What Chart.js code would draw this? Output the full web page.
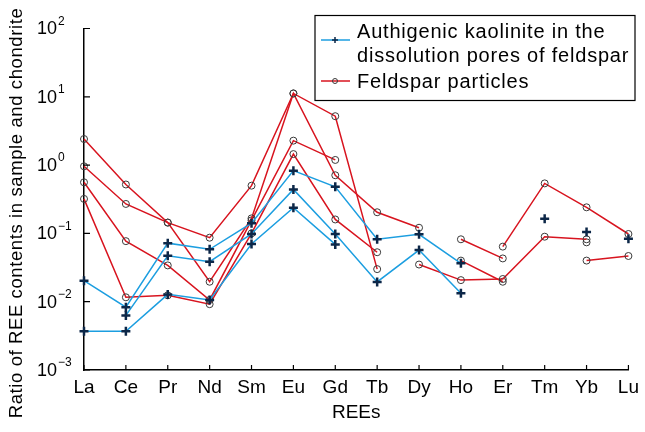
<!DOCTYPE html>
<html>
<head>
<meta charset="utf-8">
<script src="https://cdn.jsdelivr.net/npm/chart.js@4.4.1/dist/chart.umd.min.js"></script>
<style>
  html, body { margin: 0; padding: 0; background: #fff; }
</style>
</head>
<body>
<canvas id="graficaREE" width="645" height="432"></canvas>
<script>
// elementos de tierras raras (eje x)
const elementos = ['La', 'Ce', 'Pr', 'Nd', 'Sm', 'Eu', 'Gd', 'Tb', 'Dy', 'Ho', 'Er', 'Tm', 'Yb', 'Lu'];

// caolinita autigena en poros de disolucion del feldespato
const caolinita1 = [0.0203, 0.0083, 0.072, 0.0585, 0.141, 0.83, 0.48, 0.082, 0.097, 0.0365, null, 0.164, null, 0.0836];
const caolinita2 = [null, 0.0063, 0.047, 0.0385, 0.098, 0.44, 0.098, 0.0195, 0.057, 0.0133, null, null, 0.105, null];
const caolinita3 = [0.0037, 0.0037, 0.0128, 0.0106, 0.070, 0.238, 0.069, null, null, null, null, null, null, null];

// particulas de feldespato
const feldespato1 = [2.41, 0.52, 0.144, 0.0865, 0.50, 11.2, 5.2, 0.030, null, 0.082, 0.043, null, 0.040, 0.0467];
const feldespato2 = [0.96, 0.27, 0.144, 0.0196, 0.166, 11.2, 0.71, 0.204, 0.121, null, 0.064, 0.54, 0.241, 0.098];
const feldespato3 = [0.56, 0.077, 0.034, 0.0106, 0.155, 2.28, 1.19, null, 0.035, 0.0207, 0.0215, 0.0895, 0.082, null];
const feldespato4 = [0.32, 0.0116, 0.0124, 0.0092, 0.10, 1.45, 0.16, 0.053, null, 0.040, 0.0196, null, 0.074, null];

// exponentes de las marcas del eje y
const exponentes = [-3, -2, -1, 0, 1, 2];

const etiquetaCaolinita = ['Authigenic kaolinite in the', 'dissolution pores of feldspar'];
const etiquetaFeldespato = ['Feldspar particles'];

const AZUL = '#1c9ee0';
const ROJO = '#d8141f';
const CRUZ = '#0c2748';
const CIRCULO = '#3a3a3a';
const FUENTE = 'Liberation Sans, Arial, sans-serif';

function serieCaolinita(datos) {
    return {
        label: etiquetaCaolinita.join(' '),
        data: datos,
        borderColor: AZUL,
        borderWidth: 1.5,
        pointStyle: 'cross',
        pointRadius: 4.5,
        pointBorderWidth: 2.5,
        pointBorderColor: CRUZ,
        pointBackgroundColor: CRUZ,
        tension: 0,
        spanGaps: false
    };
}

function serieFeldespato(datos) {
    return {
        label: etiquetaFeldespato[0],
        data: datos,
        borderColor: ROJO,
        borderWidth: 1.5,
        pointStyle: 'circle',
        pointRadius: 3.5,
        pointBorderWidth: 1,
        pointBorderColor: CIRCULO,
        pointBackgroundColor: 'rgba(0,0,0,0)',
        tension: 0,
        spanGaps: false
    };
}

// marcas hacia dentro, etiquetas 10^n, titulo del eje y y leyenda
const decoracion = {
    id: 'decoracion',
    afterDraw(chart) {
        const ctx = chart.ctx;
        const x = chart.scales.x;
        const y = chart.scales.y;
        const area = chart.chartArea;
        ctx.save();
        ctx.strokeStyle = '#000';
        ctx.lineWidth = 1.2;
        ctx.beginPath();
        elementos.forEach((e, i) => {
            const px = x.getPixelForValue(i);
            ctx.moveTo(px, area.bottom);
            ctx.lineTo(px, area.bottom - 5);
        });
        exponentes.forEach(n => {
            const py = y.getPixelForValue(Math.pow(10, n));
            ctx.moveTo(area.left, py);
            ctx.lineTo(area.left + 6, py);
        });
        ctx.stroke();

        // etiquetas del eje y
        ctx.fillStyle = '#000';
        ctx.textAlign = 'left';
        ctx.textBaseline = 'middle';
        exponentes.forEach(n => {
            const py = y.getPixelForValue(Math.pow(10, n));
            ctx.font = '18px ' + FUENTE;
            ctx.fillText('10', 37, py + 1);
            const w = ctx.measureText('10').width;
            ctx.font = '12px ' + FUENTE;
            ctx.fillText(n < 0 ? '\u2212' + Math.abs(n) : String(n), 37 + w + 1, py - 7);
        });

        // titulo del eje y
        ctx.save();
        ctx.translate(17, 213);
        ctx.rotate(-Math.PI / 2);
        ctx.textAlign = 'center';
        ctx.font = '18.5px ' + FUENTE;
        ctx.letterSpacing = '0.6px';
        ctx.fillText('Ratio of REE contents in sample and chondrite', 0, 0);
        ctx.restore();

        // leyenda
        const caja = { x: 315, y: 15.5, w: 320, h: 85 };
        ctx.fillStyle = '#fff';
        ctx.fillRect(caja.x, caja.y, caja.w, caja.h);
        ctx.strokeStyle = '#000';
        ctx.lineWidth = 1.2;
        ctx.strokeRect(caja.x, caja.y, caja.w, caja.h);

        const entradas = [
            { texto: etiquetaCaolinita, color: AZUL, filas: [31.5, 55], yMuestra: 40, tipo: 'cruz' },
            { texto: etiquetaFeldespato, color: ROJO, filas: [81], yMuestra: 81, tipo: 'circulo' }
        ];
        entradas.forEach(ent => {
            ctx.strokeStyle = ent.color;
            ctx.lineWidth = 1.5;
            ctx.beginPath();
            ctx.moveTo(321, ent.yMuestra);
            ctx.lineTo(350, ent.yMuestra);
            ctx.stroke();
            if (ent.tipo === 'cruz') {
                ctx.strokeStyle = CRUZ;
                ctx.lineWidth = 1.5;
                ctx.beginPath();
                ctx.moveTo(332, ent.yMuestra); ctx.lineTo(338, ent.yMuestra);
                ctx.moveTo(335, ent.yMuestra - 3); ctx.lineTo(335, ent.yMuestra + 3);
                ctx.stroke();
            } else {
                ctx.strokeStyle = CIRCULO;
                ctx.lineWidth = 1;
                ctx.beginPath();
                ctx.arc(335, ent.yMuestra, 2.5, 0, Math.PI * 2);
                ctx.stroke();
            }
            ctx.fillStyle = '#000';
            ctx.font = '20px ' + FUENTE;
            ctx.letterSpacing = '0.8px';
            ctx.textAlign = 'left';
            ctx.textBaseline = 'middle';
            ent.texto.forEach((t, k) => ctx.fillText(t, 357, ent.filas[k] + 1));
        });
        ctx.restore();
    }
};

new Chart(document.getElementById('graficaREE'), {
    type: 'line',
    data: {
        labels: elementos,
        datasets: [
            serieCaolinita(caolinita1),
            serieCaolinita(caolinita2),
            serieCaolinita(caolinita3),
            serieFeldespato(feldespato1),
            serieFeldespato(feldespato2),
            serieFeldespato(feldespato3),
            serieFeldespato(feldespato4)
        ]
    },
    options: {
        responsive: false,
        animation: false,
        devicePixelRatio: 1,
        layout: { padding: { top: 28.5, right: 15, left: 0, bottom: 0 } },
        plugins: {
            legend: { display: false },
            tooltip: { enabled: false }
        },
        scales: {
            x: {
                type: 'category',
                offset: false,
                grid: { display: false, drawTicks: false },
                border: { display: true, color: '#000', width: 1.5 },
                ticks: {
                    color: '#000',
                    padding: 6,
                    autoSkip: false,
                    maxRotation: 0,
                    font: { family: FUENTE, size: 19 }
                },
                title: {
                    display: true,
                    text: 'REEs',
                    color: '#000',
                    padding: { top: 0, bottom: 8 },
                    font: { family: FUENTE, size: 19 }
                },
                afterFit: s => { s.height = 62; }
            },
            y: {
                type: 'logarithmic',
                min: 0.001,
                max: 100,
                grid: { display: false, drawTicks: false },
                border: { display: true, color: '#000', width: 1.5 },
                ticks: { display: false },
                afterBuildTicks: s => { s.ticks = exponentes.map(n => ({ value: Math.pow(10, n) })); },
                afterFit: s => { s.width = 84; }
            }
        }
    },
    plugins: [decoracion]
});
</script>
</body>
</html>
